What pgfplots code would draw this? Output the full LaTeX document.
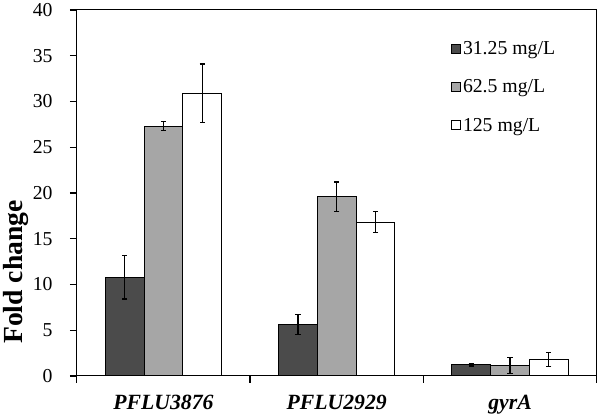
\documentclass[border=0pt]{standalone}
\usepackage{pgfplots}
\pgfplotsset{compat=1.18}
\usepackage{fontspec}
\setmainfont{Liberation Serif}
\definecolor{darkbar}{RGB}{75,75,75}
\definecolor{lightbar}{RGB}{166,166,166}
\begin{document}
\begin{tikzpicture}
\pgfplotsset{
  mybar/.style={draw=black, line width=1pt,
    legend image code/.code={\draw[##1,line width=1pt] (0pt,-4.5pt) rectangle (9pt,4.5pt);},
    error bars/y dir=both, error bars/y explicit,
    error bars/error bar style={line width=1.3pt, black},
    error bars/error mark options={rotate=90, mark size=2.6pt, line width=1.3pt, black}},
}
\begin{axis}[
  scale only axis, width=527pt, height=371pt,
  xmin=-0.5, xmax=2.5, ymin=0, ymax=40,
  ybar=0pt, bar width=39.3pt,
  ytick={0,5,...,40},
  xtick={-0.5,0.5,1.5,2.5},
  xticklabels={},
  extra x ticks={0,1,2},
  extra x tick labels={PFLU3876, PFLU2929, gyrA},
  extra x tick style={major tick length=0pt, xticklabel style={font=\fontsize{22}{26}\selectfont\bfseries\itshape, inner sep=0pt, text depth=0pt, yshift=-19pt}},
  xtick pos=bottom, ytick pos=left,
  tick align=outside,
  major tick length=7pt,
  axis line style={line width=1pt, black},
  xtick style={line width=1.2pt, black},
  ytick style={line width=1.2pt, black},
  /pgf/number format/assume math mode=true,
  yticklabel style={font=\fontsize{20}{24}\selectfont, xshift=-14pt},
  ylabel={Fold change},
  ylabel style={font=\fontsize{28}{32}\selectfont\bfseries, at={(axis description cs:-0.117,0.284)}, anchor=center},
  legend style={draw=none, fill=none, at={(axis description cs:0.714,0.925)}, anchor=north west,
    font=\fontsize{20}{24}\selectfont, row sep=20pt},
  legend cell align=left,
]
\addplot[mybar, fill=darkbar] coordinates {(0,10.8) +- (0,2.4) (1,5.65) +- (0,1.1) (2,1.25) +- (0,0.15)};
\addplot[mybar, fill=lightbar] coordinates {(0,27.3) +- (0,0.5) (1,19.6) +- (0,1.6) (2,1.18) +- (0,0.87)};
\addplot[mybar, fill=white] coordinates {(0,30.9) +- (0,3.2) (1,16.8) +- (0,1.15) (2,1.82) +- (0,0.77)};
\legend{31.25 mg/L, 62.5 mg/L, 125 mg/L}
\end{axis}
\path (-71pt,-38pt) rectangle (529pt,379pt);
\end{tikzpicture}
\end{document}
